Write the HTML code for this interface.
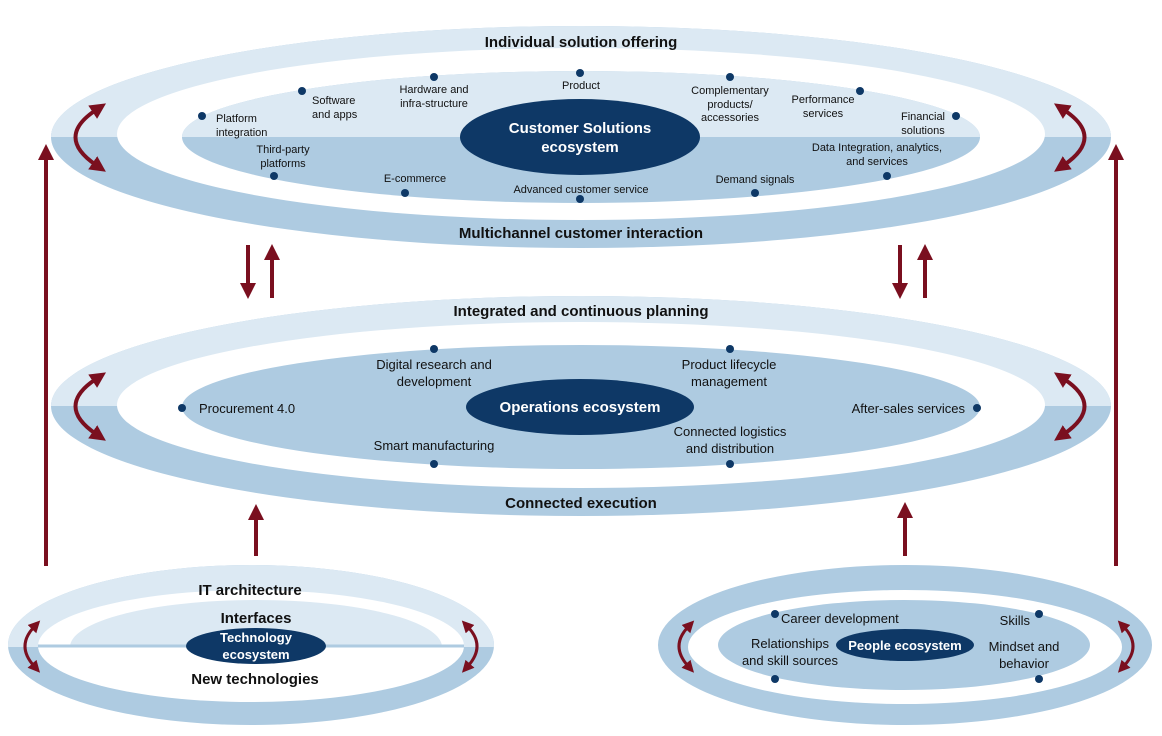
<!DOCTYPE html>
<html><head><meta charset="utf-8"><style>
body{margin:0;background:#fff}
svg{display:block;font-family:"Liberation Sans",Arial,sans-serif}
.b{font-weight:bold;font-size:15px;fill:#111}
.s{font-size:11px;fill:#111}
.m{font-size:13px;fill:#111}
.w{font-weight:bold;fill:#fff}
</style></head><body>
<svg width="1162" height="736" viewBox="0 0 1162 736">
<defs>
<marker id="ah" markerWidth="4" markerHeight="4" refX="1" refY="2" orient="auto-start-reverse" markerUnits="strokeWidth"><path d="M0,0 L4,2 L0,4 Z" fill="#7a0f1f"/></marker>
<clipPath id="topT"><rect x="0" y="0" width="1162" height="137"/></clipPath>
<clipPath id="midT"><rect x="0" y="0" width="1162" height="406"/></clipPath>
<clipPath id="blT"><rect x="0" y="0" width="1162" height="647"/></clipPath>
</defs>
<g fill="none" stroke="#7a0f1f" stroke-width="4">
<line x1="46" y1="566" x2="46" y2="156" marker-end="url(#ah)"/>
<line x1="1116" y1="566" x2="1116" y2="156" marker-end="url(#ah)"/>
</g>
<!-- TOP -->
<ellipse cx="581" cy="137" rx="530" ry="111" fill="#aecbe1"/>
<ellipse cx="581" cy="137" rx="530" ry="111" fill="#dce9f3" clip-path="url(#topT)"/>
<ellipse cx="581" cy="134" rx="464" ry="86" fill="#fff"/>
<ellipse cx="581" cy="137" rx="399" ry="66" fill="#aecbe1"/>
<ellipse cx="581" cy="137" rx="399" ry="66" fill="#dce9f3" clip-path="url(#topT)"/>
<ellipse cx="580" cy="137" rx="120" ry="38" fill="#0e3866"/>
<text x="581" y="47" class="b" text-anchor="middle">Individual solution offering</text>
<text x="581" y="238" class="b" text-anchor="middle">Multichannel customer interaction</text>
<text x="580" y="133" class="w" font-size="15" text-anchor="middle">Customer Solutions</text>
<text x="580" y="152" class="w" font-size="15" text-anchor="middle">ecosystem</text>
<g fill="#0e3866">
<circle cx="202" cy="116" r="4"/><circle cx="302" cy="91" r="4"/><circle cx="434" cy="77" r="4"/><circle cx="580" cy="73" r="4"/><circle cx="730" cy="77" r="4"/><circle cx="860" cy="91" r="4"/><circle cx="956" cy="116" r="4"/>
<circle cx="274" cy="176" r="4"/><circle cx="405" cy="193" r="4"/><circle cx="580" cy="199" r="4"/><circle cx="755" cy="193" r="4"/><circle cx="887" cy="176" r="4"/>
</g>
<g class="s">
<text x="216" y="122">Platform</text><text x="216" y="136">integration</text>
<text x="312" y="104">Software</text><text x="312" y="118">and apps</text>
<text x="434" y="93" text-anchor="middle">Hardware and</text><text x="434" y="107" text-anchor="middle">infra-structure</text>
<text x="581" y="89" text-anchor="middle">Product</text>
<text x="730" y="94" text-anchor="middle">Complementary</text><text x="730" y="108" text-anchor="middle">products/</text><text x="730" y="121" text-anchor="middle">accessories</text>
<text x="823" y="103" text-anchor="middle">Performance</text><text x="823" y="117" text-anchor="middle">services</text>
<text x="923" y="120" text-anchor="middle">Financial</text><text x="923" y="134" text-anchor="middle">solutions</text>
<text x="283" y="153" text-anchor="middle">Third-party</text><text x="283" y="167" text-anchor="middle">platforms</text>
<text x="415" y="182" text-anchor="middle">E-commerce</text>
<text x="581" y="193" text-anchor="middle">Advanced customer service</text>
<text x="755" y="183" text-anchor="middle">Demand signals</text>
<text x="877" y="151" text-anchor="middle">Data Integration, analytics,</text><text x="877" y="165" text-anchor="middle">and services</text>
</g>
<!-- MIDDLE -->
<ellipse cx="581" cy="406" rx="530" ry="110" fill="#aecbe1"/>
<ellipse cx="581" cy="406" rx="530" ry="110" fill="#dce9f3" clip-path="url(#midT)"/>
<ellipse cx="581" cy="405" rx="464" ry="83" fill="#fff"/>
<ellipse cx="581" cy="407" rx="399" ry="62" fill="#aecbe1"/>
<ellipse cx="580" cy="407" rx="114" ry="28" fill="#0e3866"/>
<text x="581" y="316" class="b" text-anchor="middle">Integrated and continuous planning</text>
<text x="581" y="508" class="b" text-anchor="middle">Connected execution</text>
<text x="580" y="412" class="w" font-size="15" text-anchor="middle">Operations ecosystem</text>
<g fill="#0e3866">
<circle cx="182" cy="408" r="4"/><circle cx="434" cy="349" r="4"/><circle cx="730" cy="349" r="4"/><circle cx="977" cy="408" r="4"/><circle cx="434" cy="464" r="4"/><circle cx="730" cy="464" r="4"/>
</g>
<g class="m">
<text x="199" y="413">Procurement 4.0</text>
<text x="434" y="369" text-anchor="middle">Digital research and</text><text x="434" y="386" text-anchor="middle">development</text>
<text x="729" y="369" text-anchor="middle">Product lifecycle</text><text x="729" y="386" text-anchor="middle">management</text>
<text x="965" y="413" text-anchor="end">After-sales services</text>
<text x="434" y="450" text-anchor="middle">Smart manufacturing</text>
<text x="730" y="436" text-anchor="middle">Connected logistics</text><text x="730" y="453" text-anchor="middle">and distribution</text>
</g>
<!-- BOTTOM LEFT -->
<ellipse cx="251" cy="645" rx="243" ry="80" fill="#aecbe1"/>
<ellipse cx="251" cy="645" rx="243" ry="80" fill="#dce9f3" clip-path="url(#blT)"/>
<ellipse cx="251" cy="646" rx="213" ry="56" fill="#fff"/>
<ellipse cx="256" cy="647" rx="186" ry="47" fill="#dce9f3" clip-path="url(#blT)"/>
<line x1="38" y1="646" x2="464" y2="646" stroke="#aecbe1" stroke-width="3"/>
<ellipse cx="256" cy="646" rx="70" ry="18" fill="#0e3866"/>
<text x="250" y="595" class="b" font-size="13" text-anchor="middle">IT architecture</text>
<text x="256" y="623" class="b" font-size="13" text-anchor="middle">Interfaces</text>
<text x="256" y="642" class="w" font-size="13" text-anchor="middle">Technology</text>
<text x="256" y="659" class="w" font-size="13" text-anchor="middle">ecosystem</text>
<text x="255" y="684" class="b" font-size="13" text-anchor="middle">New technologies</text>
<!-- BOTTOM RIGHT -->
<ellipse cx="905" cy="645" rx="247" ry="80" fill="#aecbe1"/>
<ellipse cx="905" cy="647" rx="217" ry="57" fill="#fff"/>
<ellipse cx="904" cy="645" rx="186" ry="45" fill="#aecbe1"/>
<ellipse cx="905" cy="645" rx="69" ry="16" fill="#0e3866"/>
<text x="905" y="650" class="w" font-size="13" text-anchor="middle">People ecosystem</text>
<g fill="#0e3866"><circle cx="775" cy="614" r="4"/><circle cx="1039" cy="614" r="4"/><circle cx="775" cy="679" r="4"/><circle cx="1039" cy="679" r="4"/></g>
<g class="m">
<text x="781" y="623">Career development</text>
<text x="1030" y="625" text-anchor="end">Skills</text>
<text x="790" y="648" text-anchor="middle">Relationships</text><text x="790" y="665" text-anchor="middle">and skill sources</text>
<text x="1024" y="651" text-anchor="middle">Mindset and</text><text x="1024" y="668" text-anchor="middle">behavior</text>
</g>
<!-- arrows -->
<g fill="none" stroke="#7a0f1f" stroke-width="4">
<line x1="248" y1="245" x2="248" y2="287" marker-end="url(#ah)"/>
<line x1="272" y1="298" x2="272" y2="256" marker-end="url(#ah)"/>
<line x1="900" y1="245" x2="900" y2="287" marker-end="url(#ah)"/>
<line x1="925" y1="298" x2="925" y2="256" marker-end="url(#ah)"/>
<line x1="256" y1="556" x2="256" y2="516" marker-end="url(#ah)"/>
<line x1="905" y1="556" x2="905" y2="514" marker-end="url(#ah)"/>
<g stroke-width="4">
<path d="M96,110 Q55,137 96,165" marker-start="url(#ah)" marker-end="url(#ah)"/>
<path d="M1064,110 Q1105,137 1064,165" marker-start="url(#ah)" marker-end="url(#ah)"/>
<path d="M96,379 Q55,406 96,434" marker-start="url(#ah)" marker-end="url(#ah)"/>
<path d="M1064,379 Q1105,406 1064,434" marker-start="url(#ah)" marker-end="url(#ah)"/>
</g>
<g stroke-width="3">
<path d="M34,627 Q16,646 34,666" marker-start="url(#ah)" marker-end="url(#ah)"/>
<path d="M468,627 Q486,646 468,666" marker-start="url(#ah)" marker-end="url(#ah)"/>
<path d="M688,627 Q670,646 688,666" marker-start="url(#ah)" marker-end="url(#ah)"/>
<path d="M1124,627 Q1142,646 1124,666" marker-start="url(#ah)" marker-end="url(#ah)"/>
</g>
</g>
</svg>
</body></html>
